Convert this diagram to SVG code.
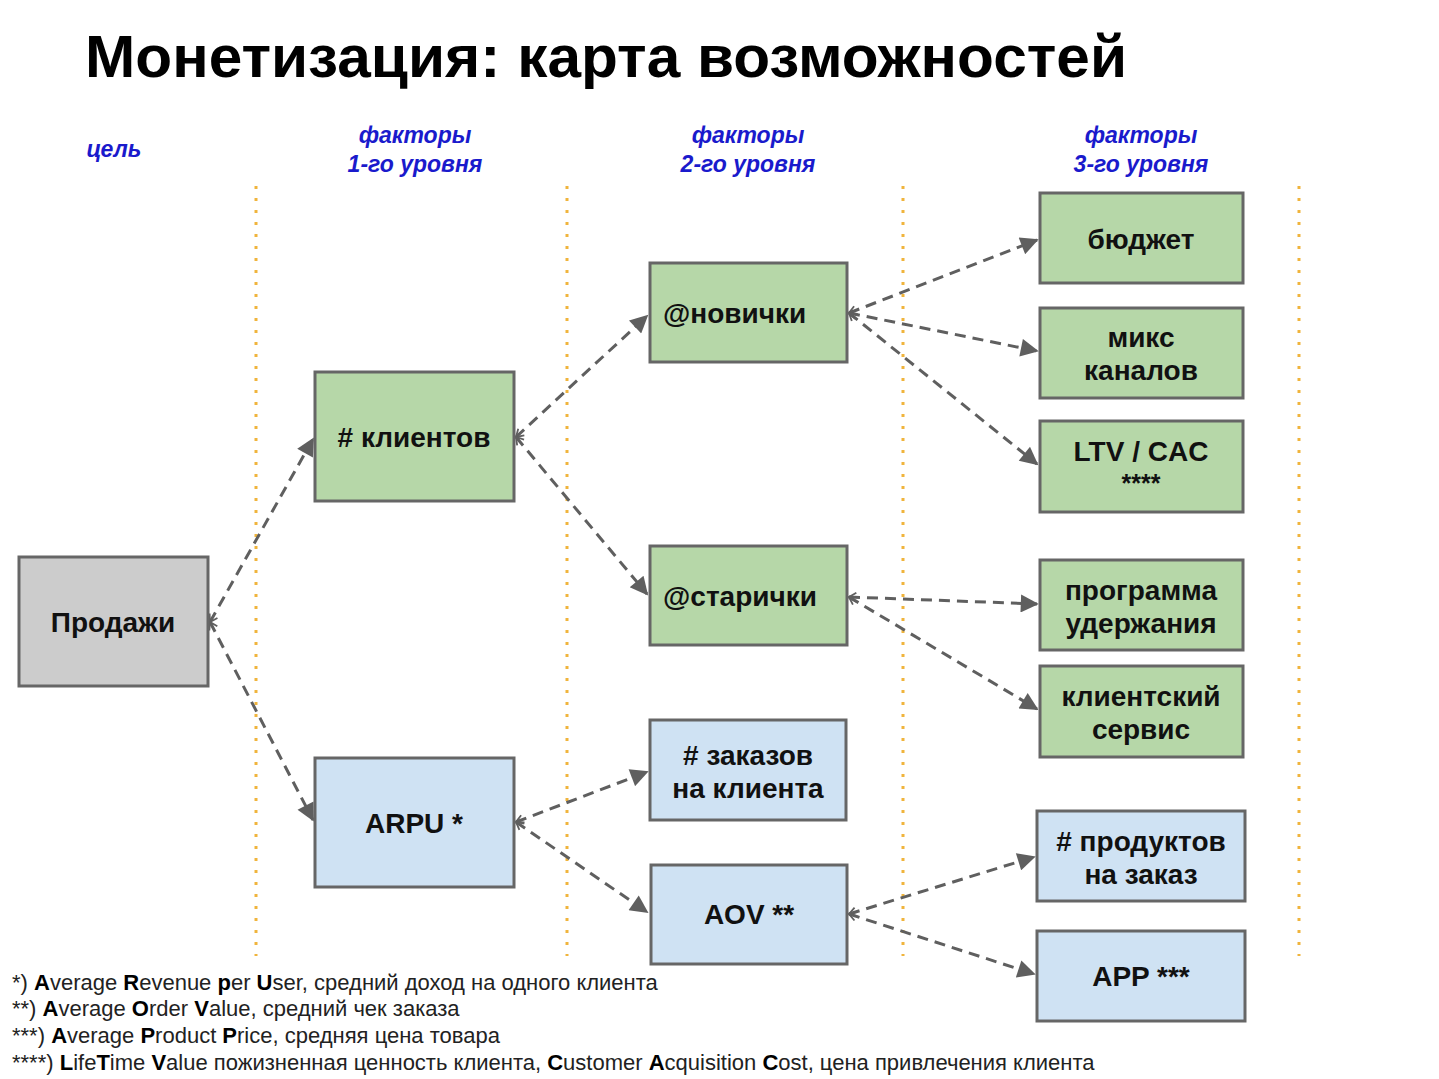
<svg xmlns="http://www.w3.org/2000/svg" width="1439" height="1079" viewBox="0 0 1439 1079">
<style>
.title{font-family:"Liberation Sans",Arial,sans-serif;font-weight:bold;font-size:60px;fill:#000}
.hdr{font-family:"Liberation Sans",Arial,sans-serif;font-weight:bold;font-style:italic;font-size:23px;fill:#1a1acc;text-anchor:middle}
.box{stroke:#666;stroke-width:3}
.g{fill:#b6d7a8}.b{fill:#cfe2f3}.gr{fill:#cccccc}
.t{font-family:"Liberation Sans",Arial,sans-serif;font-weight:bold;font-size:28px;fill:#111;text-anchor:middle}
.ts{font-family:"Liberation Sans",Arial,sans-serif;font-weight:bold;font-size:25px;fill:#111;text-anchor:middle}
.tl{font-family:"Liberation Sans",Arial,sans-serif;font-weight:bold;font-size:28px;fill:#111}
.sep{stroke:#f0b43c;stroke-width:3;stroke-dasharray:3,9;stroke-linecap:butt}
.c{stroke:#5f5f5f;stroke-width:3;stroke-dasharray:11,7;fill:none;marker-end:url(#ah);marker-start:url(#st)}
.fn{font-family:"Liberation Sans",Arial,sans-serif;font-size:22px;fill:#222}
.fn tspan.bd{font-weight:bold;fill:#000}
</style>
<defs>
<marker id="ah" viewBox="0 0 10 10" refX="9" refY="5" markerWidth="7" markerHeight="6" orient="auto" markerUnits="strokeWidth">
<path d="M0,0 L10,5 L0,10 z" fill="#5f5f5f"/>
</marker>
<marker id="st" viewBox="0 0 10 10" refX="1" refY="5" markerWidth="3" markerHeight="4" orient="auto" markerUnits="strokeWidth">
<path d="M9,0 L1,5 L9,10" fill="none" stroke="#5f5f5f" stroke-width="2"/>
</marker>
</defs>
<rect width="1439" height="1079" fill="#fff"/>
<text class="title" x="85" y="77" textLength="1042" lengthAdjust="spacingAndGlyphs">Монетизация: карта возможностей</text>
<g id="headers">
<text class="hdr" x="114" y="157">цель</text>
<text class="hdr" x="415" y="143">факторы</text>
<text class="hdr" x="415" y="172">1-го уровня</text>
<text class="hdr" x="748" y="143">факторы</text>
<text class="hdr" x="748" y="172">2-го уровня</text>
<text class="hdr" x="1141" y="143">факторы</text>
<text class="hdr" x="1141" y="172">3-го уровня</text>
</g>
<g id="separators">
<line class="sep" x1="256" y1="186" x2="256" y2="956"/>
<line class="sep" x1="567" y1="186" x2="567" y2="956"/>
<line class="sep" x1="903" y1="186" x2="903" y2="956"/>
<line class="sep" x1="1299" y1="186" x2="1299" y2="956"/>
</g>
<g id="connectors">
<line class="c" x1="210" y1="622" x2="313" y2="439"/>
<line class="c" x1="210" y1="622" x2="313" y2="820"/>
<line class="c" x1="516" y1="437" x2="647" y2="316"/>
<line class="c" x1="516" y1="437" x2="647" y2="594"/>
<line class="c" x1="516" y1="822" x2="647" y2="772"/>
<line class="c" x1="516" y1="822" x2="647" y2="912"/>
<line class="c" x1="849" y1="313" x2="1037" y2="240"/>
<line class="c" x1="849" y1="313" x2="1037" y2="351"/>
<line class="c" x1="849" y1="313" x2="1037" y2="464"/>
<line class="c" x1="849" y1="597" x2="1037" y2="604"/>
<line class="c" x1="849" y1="597" x2="1037" y2="709"/>
<line class="c" x1="849" y1="914" x2="1034" y2="857"/>
<line class="c" x1="849" y1="914" x2="1034" y2="974"/>
</g>
<g id="n-prodazhi"><rect class="box gr" x="19" y="557" width="189" height="129"/><text class="t" x="113" y="632">Продажи</text></g>
<g id="n-klienty"><rect class="box g" x="315" y="372" width="199" height="129"/><text class="t" x="414" y="447">#&#160;клиентов</text></g>
<g id="n-arpu"><rect class="box b" x="315" y="758" width="199" height="129"/><text class="t" x="414" y="833">ARPU *</text></g>
<g id="n-novichki"><rect class="box g" x="650" y="263" width="197" height="99"/><text class="tl" x="663" y="323">@новички</text></g>
<g id="n-starichki"><rect class="box g" x="650" y="546" width="197" height="99"/><text class="tl" x="663" y="606">@старички</text></g>
<g id="n-zakazov"><rect class="box b" x="650" y="720" width="196" height="100"/><text class="t" x="748" y="765">#&#160;заказов</text><text class="t" x="748" y="798">на клиента</text></g>
<g id="n-aov"><rect class="box b" x="651" y="865" width="196" height="99"/><text class="t" x="749" y="924">AOV **</text></g>
<g id="n-budget"><rect class="box g" x="1040" y="193" width="203" height="90"/><text class="t" x="1141" y="249">бюджет</text></g>
<g id="n-mix"><rect class="box g" x="1040" y="308" width="203" height="90"/><text class="t" x="1141" y="347">микс</text><text class="t" x="1141" y="380">каналов</text></g>
<g id="n-ltv"><rect class="box g" x="1040" y="421" width="203" height="91"/><text class="t" x="1141" y="461">LTV / CAC</text><text class="ts" x="1141" y="492">****</text></g>
<g id="n-retention"><rect class="box g" x="1040" y="560" width="203" height="90"/><text class="t" x="1141" y="600">программа</text><text class="t" x="1141" y="633">удержания</text></g>
<g id="n-service"><rect class="box g" x="1040" y="666" width="203" height="91"/><text class="t" x="1141" y="706">клиентский</text><text class="t" x="1141" y="739">сервис</text></g>
<g id="n-products"><rect class="box b" x="1037" y="811" width="208" height="90"/><text class="t" x="1141" y="851">#&#160;продуктов</text><text class="t" x="1141" y="884">на заказ</text></g>
<g id="n-app"><rect class="box b" x="1037" y="931" width="208" height="90"/><text class="t" x="1141" y="986">APP ***</text></g>
<g id="footnotes">
<text class="fn" x="12" y="990">*) <tspan class="bd">A</tspan>verage <tspan class="bd">R</tspan>evenue <tspan class="bd">p</tspan>er <tspan class="bd">U</tspan>ser, средний доход на одного клиента</text>
<text class="fn" x="12" y="1016">**) <tspan class="bd">A</tspan>verage <tspan class="bd">O</tspan>rder <tspan class="bd">V</tspan>alue, средний чек заказа</text>
<text class="fn" x="12" y="1043">***) <tspan class="bd">A</tspan>verage <tspan class="bd">P</tspan>roduct <tspan class="bd">P</tspan>rice, средняя цена товара</text>
<text class="fn" x="12" y="1070">****) <tspan class="bd">L</tspan>ife<tspan class="bd">T</tspan>ime <tspan class="bd">V</tspan>alue пожизненная ценность клиента, <tspan class="bd">C</tspan>ustomer <tspan class="bd">A</tspan>cquisition <tspan class="bd">C</tspan>ost, цена привлечения клиента</text>
</g>
</svg>
